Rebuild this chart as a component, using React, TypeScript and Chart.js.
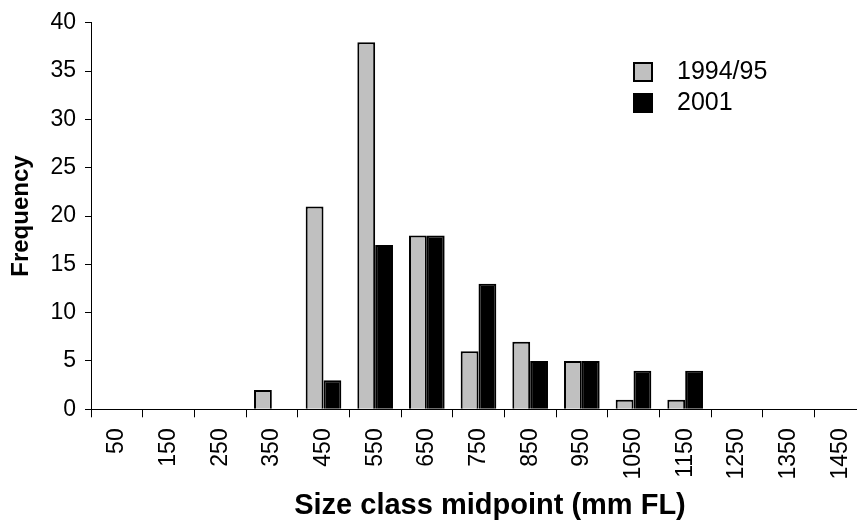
import { useEffect, useRef } from "react";
import { Chart, registerables } from "chart.js";

Chart.register(...registerables);

const categories = ["50", "150", "250", "350", "450", "550", "650", "750", "850", "950", "1050", "1150", "1250", "1350", "1450"];
const seriesLabels = ["1994/95", "2001"];
const values199495 = [0, 0, 0, 2, 21, 38, 18, 6, 7, 5, 1, 1, 0, 0, 0];
const values2001 = [0, 0, 0, 0, 3, 17, 18, 13, 5, 5, 4, 4, 0, 0, 0];
const seriesColors = ["#C0C0C0", "#000000"];
const yMin = 0;
const yMax = 40;
const yStep = 5;
const xTitle = "Size class midpoint (mm FL)";
const yTitle = "Frequency";

const FONT = '"Liberation Sans", Arial, sans-serif';

const legendPlugin = {
  id: "customLegend",
  afterDraw(chart: any) {
    const ctx = chart.ctx;
    ctx.save();
    chart.data.datasets.forEach((ds: any, i: number) => {
      const x = 633;
      const y = 62 + i * 31;
      ctx.fillStyle = ds.backgroundColor;
      ctx.fillRect(x, y, 20, 20);
      ctx.strokeStyle = "#000";
      ctx.lineWidth = 2;
      ctx.strokeRect(x + 1, y + 1, 18, 18);
      ctx.fillStyle = "#000";
      ctx.font = `25px ${FONT}`;
      ctx.textBaseline = "middle";
      ctx.textAlign = "left";
      ctx.fillText(ds.label, 677, y + 10);
    });
    ctx.restore();
  },
};

const xTitlePlugin = {
  id: "xTitle",
  afterDraw(chart: any) {
    const ctx = chart.ctx;
    ctx.save();
    ctx.fillStyle = "#000";
    ctx.font = `bold 29px ${FONT}`;
    ctx.textAlign = "center";
    ctx.textBaseline = "alphabetic";
    ctx.fillText(xTitle, 490, 514);
    ctx.restore();
  },
};

export default function App() {
  const ref = useRef<HTMLCanvasElement | null>(null);

  useEffect(() => {
    if (!ref.current) return;
    const chart = new Chart(ref.current, {
      type: "bar",
      data: {
        labels: categories,
        datasets: [
          {
            label: seriesLabels[0],
            data: values199495,
            backgroundColor: seriesColors[0],
            borderColor: "#000",
            borderWidth: 2,
            barPercentage: 1,
            categoryPercentage: 0.69,
          },
          {
            label: seriesLabels[1],
            data: values2001,
            backgroundColor: seriesColors[1],
            borderColor: "#000",
            borderWidth: 2,
            barPercentage: 1,
            categoryPercentage: 0.69,
          },
        ],
      },
      options: {
        responsive: false,
        maintainAspectRatio: false,
        devicePixelRatio: 1,
        animation: false,
        layout: { padding: { left: 0, top: 17.5, right: 14, bottom: 0 } },
        plugins: {
          legend: { display: false },
          tooltip: { enabled: false },
          title: { display: false },
        },
        scales: {
          x: {
            type: "category",
            offset: true,
            afterFit: (scale: any) => {
              scale.height = 111.7;
            },
            grid: {
              offset: true,
              drawOnChartArea: false,
              drawTicks: true,
              tickLength: 8,
              color: "#000",
              lineWidth: 1,
            },
            border: { display: true, color: "#000", width: 1 },
            ticks: {
              autoSkip: false,
              maxRotation: 90,
              minRotation: 90,
              padding: 11,
              color: "#000",
              font: { family: FONT, size: 23 },
            },
          },
          y: {
            min: yMin,
            max: yMax,
            afterFit: (scale: any) => {
              scale.width = 91;
            },
            grid: {
              drawOnChartArea: false,
              drawTicks: true,
              tickLength: 6,
              color: "#000",
              lineWidth: 1,
            },
            border: { display: true, color: "#000", width: 1 },
            ticks: {
              stepSize: yStep,
              padding: 9,
              color: "#000",
              font: { family: FONT, size: 23 },
            },
            title: {
              display: true,
              text: yTitle,
              color: "#000",
              font: { family: FONT, size: 24, weight: "bold", lineHeight: 1.2 },
              padding: { top: 7, bottom: 0 },
            },
          },
        },
      },
      plugins: [legendPlugin, xTitlePlugin],
    } as any);
    return () => chart.destroy();
  }, []);

  return (
    <div
      style={{
        position: "absolute",
        left: 0,
        top: 0,
        width: 857,
        height: 521,
        overflow: "hidden",
        background: "#fff",
      }}
    >
      <canvas ref={ref} width={880} height={521} style={{ display: "block" }} />
    </div>
  );
}
